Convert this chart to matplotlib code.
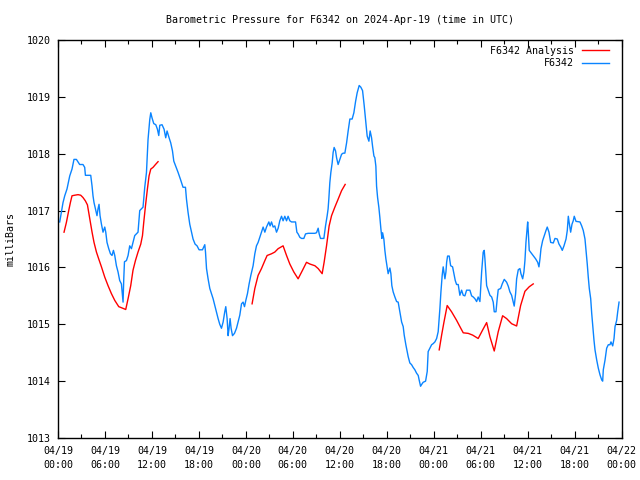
import numpy as np
import matplotlib
matplotlib.use("Agg")
import matplotlib.pyplot as plt

# hours since 2024-04-19 00:00 UTC, pressure in mbar
obs_hours = [0.22, 0.43, 0.64, 0.86, 1.15, 1.50, 1.79, 2.04, 2.35, 2.77, 3.19, 3.41, 3.50, 4.18, 4.35, 4.47,
             4.60, 4.78, 4.98, 5.11, 5.24, 5.37, 5.55, 5.75, 5.97, 6.10, 6.26, 6.48, 6.70, 6.90, 7.08, 7.25,
             7.46, 7.67, 7.88, 8.10, 8.23, 8.31, 8.40, 8.49, 8.74, 8.95, 9.16, 9.38, 9.58, 9.80, 10.02, 10.22,
             10.44, 10.66, 10.86, 11.08, 11.30, 11.50, 11.72, 11.85, 12.01, 12.23, 12.49, 12.70, 12.87, 13.00,
             13.29, 13.55, 13.76, 13.93, 14.19, 14.40, 14.62, 14.79, 15.04, 15.34, 15.64, 15.97, 16.28, 16.41,
             16.61, 16.83, 17.05, 17.25, 17.51, 17.76, 18.02, 18.45, 18.75, 18.84, 18.97, 19.17, 19.39, 19.60,
             19.81, 20.03, 20.24, 20.45, 20.66, 20.88, 21.09, 21.30, 21.43, 21.60, 21.73, 21.85, 21.98, 22.11,
             22.29, 22.54, 22.80, 23.00, 23.22, 23.44, 23.64, 23.82, 23.99, 24.20, 24.41, 24.63, 24.92, 25.14,
             25.35, 25.56, 25.78, 25.99, 26.20, 26.42, 26.63, 26.93, 27.09, 27.27, 27.48, 27.69, 27.91, 28.12,
             28.33, 28.55, 28.75, 28.97, 29.19, 29.39, 29.61, 29.83, 30.34, 30.51, 30.67, 30.89, 31.11, 31.40,
             31.62, 31.95, 32.80, 33.02, 33.23, 33.36, 33.53, 33.96, 34.17, 34.38, 34.50, 34.59, 34.72, 34.85,
             35.02, 35.14, 35.27, 35.45, 35.58, 35.78, 36.00, 36.22, 36.42, 36.64, 36.86, 37.06, 37.28, 37.57,
             37.79, 38.01, 38.21, 38.47, 38.68, 38.90, 39.10, 39.28, 39.49, 39.71, 39.87, 40.05, 40.18, 40.35,
             40.47, 40.60, 40.69, 40.82, 40.98, 41.11, 41.24, 41.37, 41.46, 41.62, 41.75, 41.88, 42.04, 42.17,
             42.39, 42.52, 42.64, 42.81, 43.03, 43.25, 43.45, 43.67, 43.89, 44.09, 44.22, 44.43, 44.60, 44.73,
             44.94, 45.16, 45.37, 45.58, 45.80, 46.01, 46.13, 46.31, 46.44, 46.64, 46.95, 47.16, 47.28, 47.50,
             47.72, 47.92, 48.14, 48.36, 48.56, 48.78, 48.91, 49.07, 49.20, 49.29, 49.42, 49.55, 49.64, 49.76,
             49.97, 50.15, 50.40, 50.57, 50.74, 50.91, 51.12, 51.33, 51.55, 51.76, 51.97, 52.19, 52.61, 52.83,
             53.04, 53.25, 53.47, 53.67, 53.89, 54.11, 54.31, 54.44, 54.53, 54.75, 54.95, 55.17, 55.39, 55.59,
             55.72, 55.94, 56.10, 56.23, 56.54, 56.74, 57.00, 57.30, 57.51, 57.72, 57.94, 58.15, 58.27, 58.45,
             58.58, 58.79, 59.00, 59.13, 59.35, 59.51, 59.64, 59.77, 59.90, 59.99, 60.06, 60.19, 60.41, 60.70,
             61.01, 61.27, 61.43, 61.56, 61.69, 61.90, 62.11, 62.33, 62.49, 62.71, 62.93, 63.26, 63.48, 63.77,
             63.99, 64.21, 64.41, 64.63, 64.89, 65.05, 65.18, 65.30, 65.48, 65.65, 65.81, 65.94, 66.16, 66.67,
             66.89, 67.09, 67.31, 67.44, 67.60, 67.73, 67.86, 68.04, 68.17, 68.29, 68.46, 68.59, 68.81, 69.01,
             69.23, 69.45, 69.57, 69.65, 69.87, 70.08, 70.29, 70.50, 70.63, 70.85, 71.02, 71.15, 71.36, 71.49,
             71.66]
obs_mbar = [1016.80, 1016.97, 1017.14, 1017.26, 1017.38, 1017.61, 1017.73, 1017.90, 1017.90, 1017.81, 1017.81,
            1017.76, 1017.62, 1017.62, 1017.43, 1017.26, 1017.14, 1017.03, 1016.91, 1017.03, 1017.11, 1016.91,
            1016.76, 1016.62, 1016.71, 1016.62, 1016.44, 1016.33, 1016.24, 1016.21, 1016.30, 1016.21, 1016.03,
            1015.92, 1015.77, 1015.71, 1015.51, 1015.39, 1015.80, 1016.10, 1016.12, 1016.21, 1016.38, 1016.33,
            1016.44, 1016.56, 1016.59, 1016.62, 1017.00, 1017.03, 1017.06, 1017.41, 1017.67, 1018.25, 1018.60,
            1018.72, 1018.63, 1018.53, 1018.51, 1018.43, 1018.32, 1018.50, 1018.51, 1018.43, 1018.28, 1018.40,
            1018.28, 1018.19, 1018.05, 1017.87, 1017.78, 1017.67, 1017.55, 1017.41, 1017.41, 1017.20, 1016.97,
            1016.76, 1016.62, 1016.50, 1016.41, 1016.38, 1016.31, 1016.31, 1016.40, 1016.27, 1015.98, 1015.80,
            1015.63, 1015.54, 1015.45, 1015.33, 1015.22, 1015.10, 1015.00, 1014.93, 1015.04, 1015.22, 1015.31,
            1015.10, 1014.80, 1014.93, 1015.10, 1014.93, 1014.80, 1014.84, 1014.93, 1015.04, 1015.16, 1015.36,
            1015.39, 1015.31, 1015.42, 1015.54, 1015.71, 1015.86, 1016.03, 1016.24, 1016.38, 1016.44, 1016.53,
            1016.62, 1016.71, 1016.62, 1016.71, 1016.80, 1016.73, 1016.80, 1016.71, 1016.73, 1016.62, 1016.69,
            1016.82, 1016.90, 1016.82, 1016.90, 1016.82, 1016.90, 1016.82, 1016.80, 1016.80, 1016.62, 1016.59,
            1016.53, 1016.51, 1016.51, 1016.59, 1016.60, 1016.60, 1016.61, 1016.69, 1016.59, 1016.51, 1016.51,
            1016.73, 1016.91, 1017.03, 1017.20, 1017.49, 1017.67, 1017.84, 1018.02, 1018.11, 1018.05, 1017.93,
            1017.81, 1017.90, 1017.99, 1018.01, 1018.01, 1018.19, 1018.40, 1018.61, 1018.61, 1018.72, 1018.92,
            1019.07, 1019.20, 1019.17, 1019.11, 1018.86, 1018.60, 1018.31, 1018.22, 1018.40, 1018.28, 1018.13,
            1017.96, 1017.93, 1017.78, 1017.43, 1017.23, 1017.06, 1016.88, 1016.68, 1016.51, 1016.61, 1016.50,
            1016.30, 1016.15, 1016.01, 1015.89, 1015.99, 1015.89, 1015.68, 1015.57, 1015.48, 1015.40, 1015.39,
            1015.22, 1015.04, 1014.96, 1014.81, 1014.64, 1014.52, 1014.43, 1014.32, 1014.29, 1014.24, 1014.20,
            1014.14, 1014.10, 1014.02, 1013.91, 1013.94, 1013.98, 1014.00, 1014.17, 1014.52, 1014.58, 1014.64,
            1014.66, 1014.69, 1014.75, 1014.87, 1015.28, 1015.57, 1015.86, 1016.01, 1015.92, 1015.80, 1015.92,
            1016.09, 1016.20, 1016.20, 1016.03, 1016.01, 1015.89, 1015.77, 1015.70, 1015.70, 1015.51, 1015.60,
            1015.51, 1015.50, 1015.60, 1015.60, 1015.50, 1015.48, 1015.45, 1015.40, 1015.48, 1015.40, 1015.92,
            1016.27, 1016.30, 1016.15, 1015.68, 1015.60, 1015.51, 1015.48, 1015.39, 1015.22, 1015.22, 1015.45,
            1015.61, 1015.63, 1015.71, 1015.79, 1015.74, 1015.67, 1015.57, 1015.51, 1015.39, 1015.32, 1015.54,
            1015.80, 1015.96, 1015.98, 1015.89, 1015.80, 1015.92, 1016.12, 1016.44, 1016.65, 1016.80, 1016.65,
            1016.30, 1016.26, 1016.21, 1016.15, 1016.09, 1016.01, 1016.15, 1016.33, 1016.47, 1016.56, 1016.65,
            1016.71, 1016.62, 1016.44, 1016.43, 1016.51, 1016.50, 1016.41, 1016.36, 1016.30, 1016.38, 1016.50,
            1016.65, 1016.90, 1016.78, 1016.62, 1016.76, 1016.82, 1016.90, 1016.81, 1016.80, 1016.73, 1016.65,
            1016.50, 1016.30, 1016.06, 1015.83, 1015.63, 1015.45, 1015.19, 1014.99, 1014.72, 1014.55, 1014.37,
            1014.23, 1014.11, 1014.02, 1014.00, 1014.20, 1014.37, 1014.58, 1014.64, 1014.64, 1014.69, 1014.62,
            1014.75, 1014.96, 1015.07, 1015.22, 1015.39]

# analysis runs (three separate segments)
ana1_hours = [0.77, 1.07, 1.37, 1.58, 1.79, 2.13, 2.56, 2.90, 3.19, 3.50, 3.76, 3.92, 4.14, 4.35, 4.60, 4.91,
              5.20, 5.55, 5.97, 6.39, 6.82, 7.25, 7.76, 8.31, 8.65, 8.95, 9.29, 9.58, 9.89, 10.22, 10.57, 10.79,
              10.95, 11.17, 11.42, 11.63, 11.85, 12.14, 12.45, 12.78]
ana1_mbar = [1016.62, 1016.79, 1017.00, 1017.14, 1017.26, 1017.27, 1017.28, 1017.27, 1017.23, 1017.17, 1017.10,
             1016.97, 1016.79, 1016.62, 1016.44, 1016.27, 1016.15, 1016.01, 1015.83, 1015.68, 1015.54, 1015.42,
             1015.31, 1015.28, 1015.26, 1015.45, 1015.68, 1015.95, 1016.12, 1016.27, 1016.41, 1016.56, 1016.79,
             1017.08, 1017.38, 1017.61, 1017.73, 1017.76, 1017.81, 1017.86]
ana2_hours = [24.79, 25.14, 25.56, 25.99, 26.42, 26.71, 27.27, 27.69, 28.12, 28.75, 29.19, 29.61, 30.12, 30.67,
              31.23, 31.74, 32.17, 32.81, 33.23, 33.74, 33.99, 34.30, 34.63, 34.94, 35.36, 35.78, 36.22, 36.68]
ana2_mbar = [1015.36, 1015.63, 1015.86, 1015.98, 1016.12, 1016.21, 1016.24, 1016.27, 1016.33, 1016.38, 1016.21,
             1016.06, 1015.92, 1015.80, 1015.95, 1016.09, 1016.06, 1016.03, 1015.98, 1015.89, 1016.09, 1016.38,
             1016.73, 1016.91, 1017.06, 1017.20, 1017.35, 1017.46]
ana3_hours = [48.69, 49.00, 49.30, 49.71, 50.27, 50.91, 51.33, 51.76, 52.40, 52.96, 53.67, 54.24, 54.75, 55.17,
              55.72, 56.23, 56.79, 57.30, 57.94, 58.58, 59.09, 59.64, 60.19, 60.70]
ana3_mbar = [1014.55, 1014.81, 1015.04, 1015.33, 1015.22, 1015.07, 1014.96, 1014.85, 1014.84, 1014.81, 1014.75,
             1014.90, 1015.03, 1014.78, 1014.53, 1014.87, 1015.15, 1015.10, 1015.01, 1014.97, 1015.33, 1015.58,
             1015.66, 1015.71]

tick_dates = ["04/19", "04/19", "04/19", "04/19", "04/20", "04/20", "04/20", "04/20",
              "04/21", "04/21", "04/21", "04/21", "04/22"]
tick_times = ["00:00", "06:00", "12:00", "18:00"] * 3 + ["00:00"]

plt.rcParams['font.family'] = ['DejaVu Sans Mono']
fs = 7.2

fig = plt.figure(figsize=(6.4, 4.8), dpi=100)
ax = fig.add_axes([58 / 640, 1 - 438 / 480, (621.7 - 58) / 640, 398 / 480])

red = '#ff0000'
blue = '#0a84ff'
ax.plot(ana1_hours, ana1_mbar, color=red, lw=1.0, label='F6342 Analysis')
ax.plot(ana2_hours, ana2_mbar, color=red, lw=1.0)
ax.plot(ana3_hours, ana3_mbar, color=red, lw=1.0)
ax.plot(obs_hours, obs_mbar, color=blue, lw=1.0, label='F6342')

ax.set_xlim(0, 72)
ax.set_ylim(1013, 1020)
ax.set_xticks(np.arange(0, 73, 6))
ax.set_xticks(np.arange(0, 73, 3), minor=True)
ax.set_xticklabels([d + "\n" + t for d, t in zip(tick_dates, tick_times)], fontsize=fs, linespacing=1.45)
ax.set_yticks(np.arange(1013, 1021, 1))
ax.set_yticklabels([str(v) for v in range(1013, 1021)], fontsize=fs)
ax.tick_params(which='both', direction='in', top=True, right=True, width=0.8)
ax.tick_params(which='major', length=5)
ax.tick_params(which='minor', length=3)
ax.tick_params(axis='x', pad=6)
ax.tick_params(axis='y', pad=5)
for sp in ax.spines.values():
    sp.set_linewidth(1.0)

ax.set_title("Barometric Pressure for F6342 on 2024-Apr-19 (time in UTC)", fontsize=fs, pad=12)
ax.set_ylabel("milliBars", fontsize=fs, labelpad=8)

ax.legend(loc='upper right', bbox_to_anchor=(0.9775, 0.986), frameon=False, markerfirst=False, fontsize=fs,
          handlelength=2.7, handletextpad=0.8, labelspacing=0.25, borderaxespad=0, borderpad=0)

fig.savefig("out.png", dpi=100)
